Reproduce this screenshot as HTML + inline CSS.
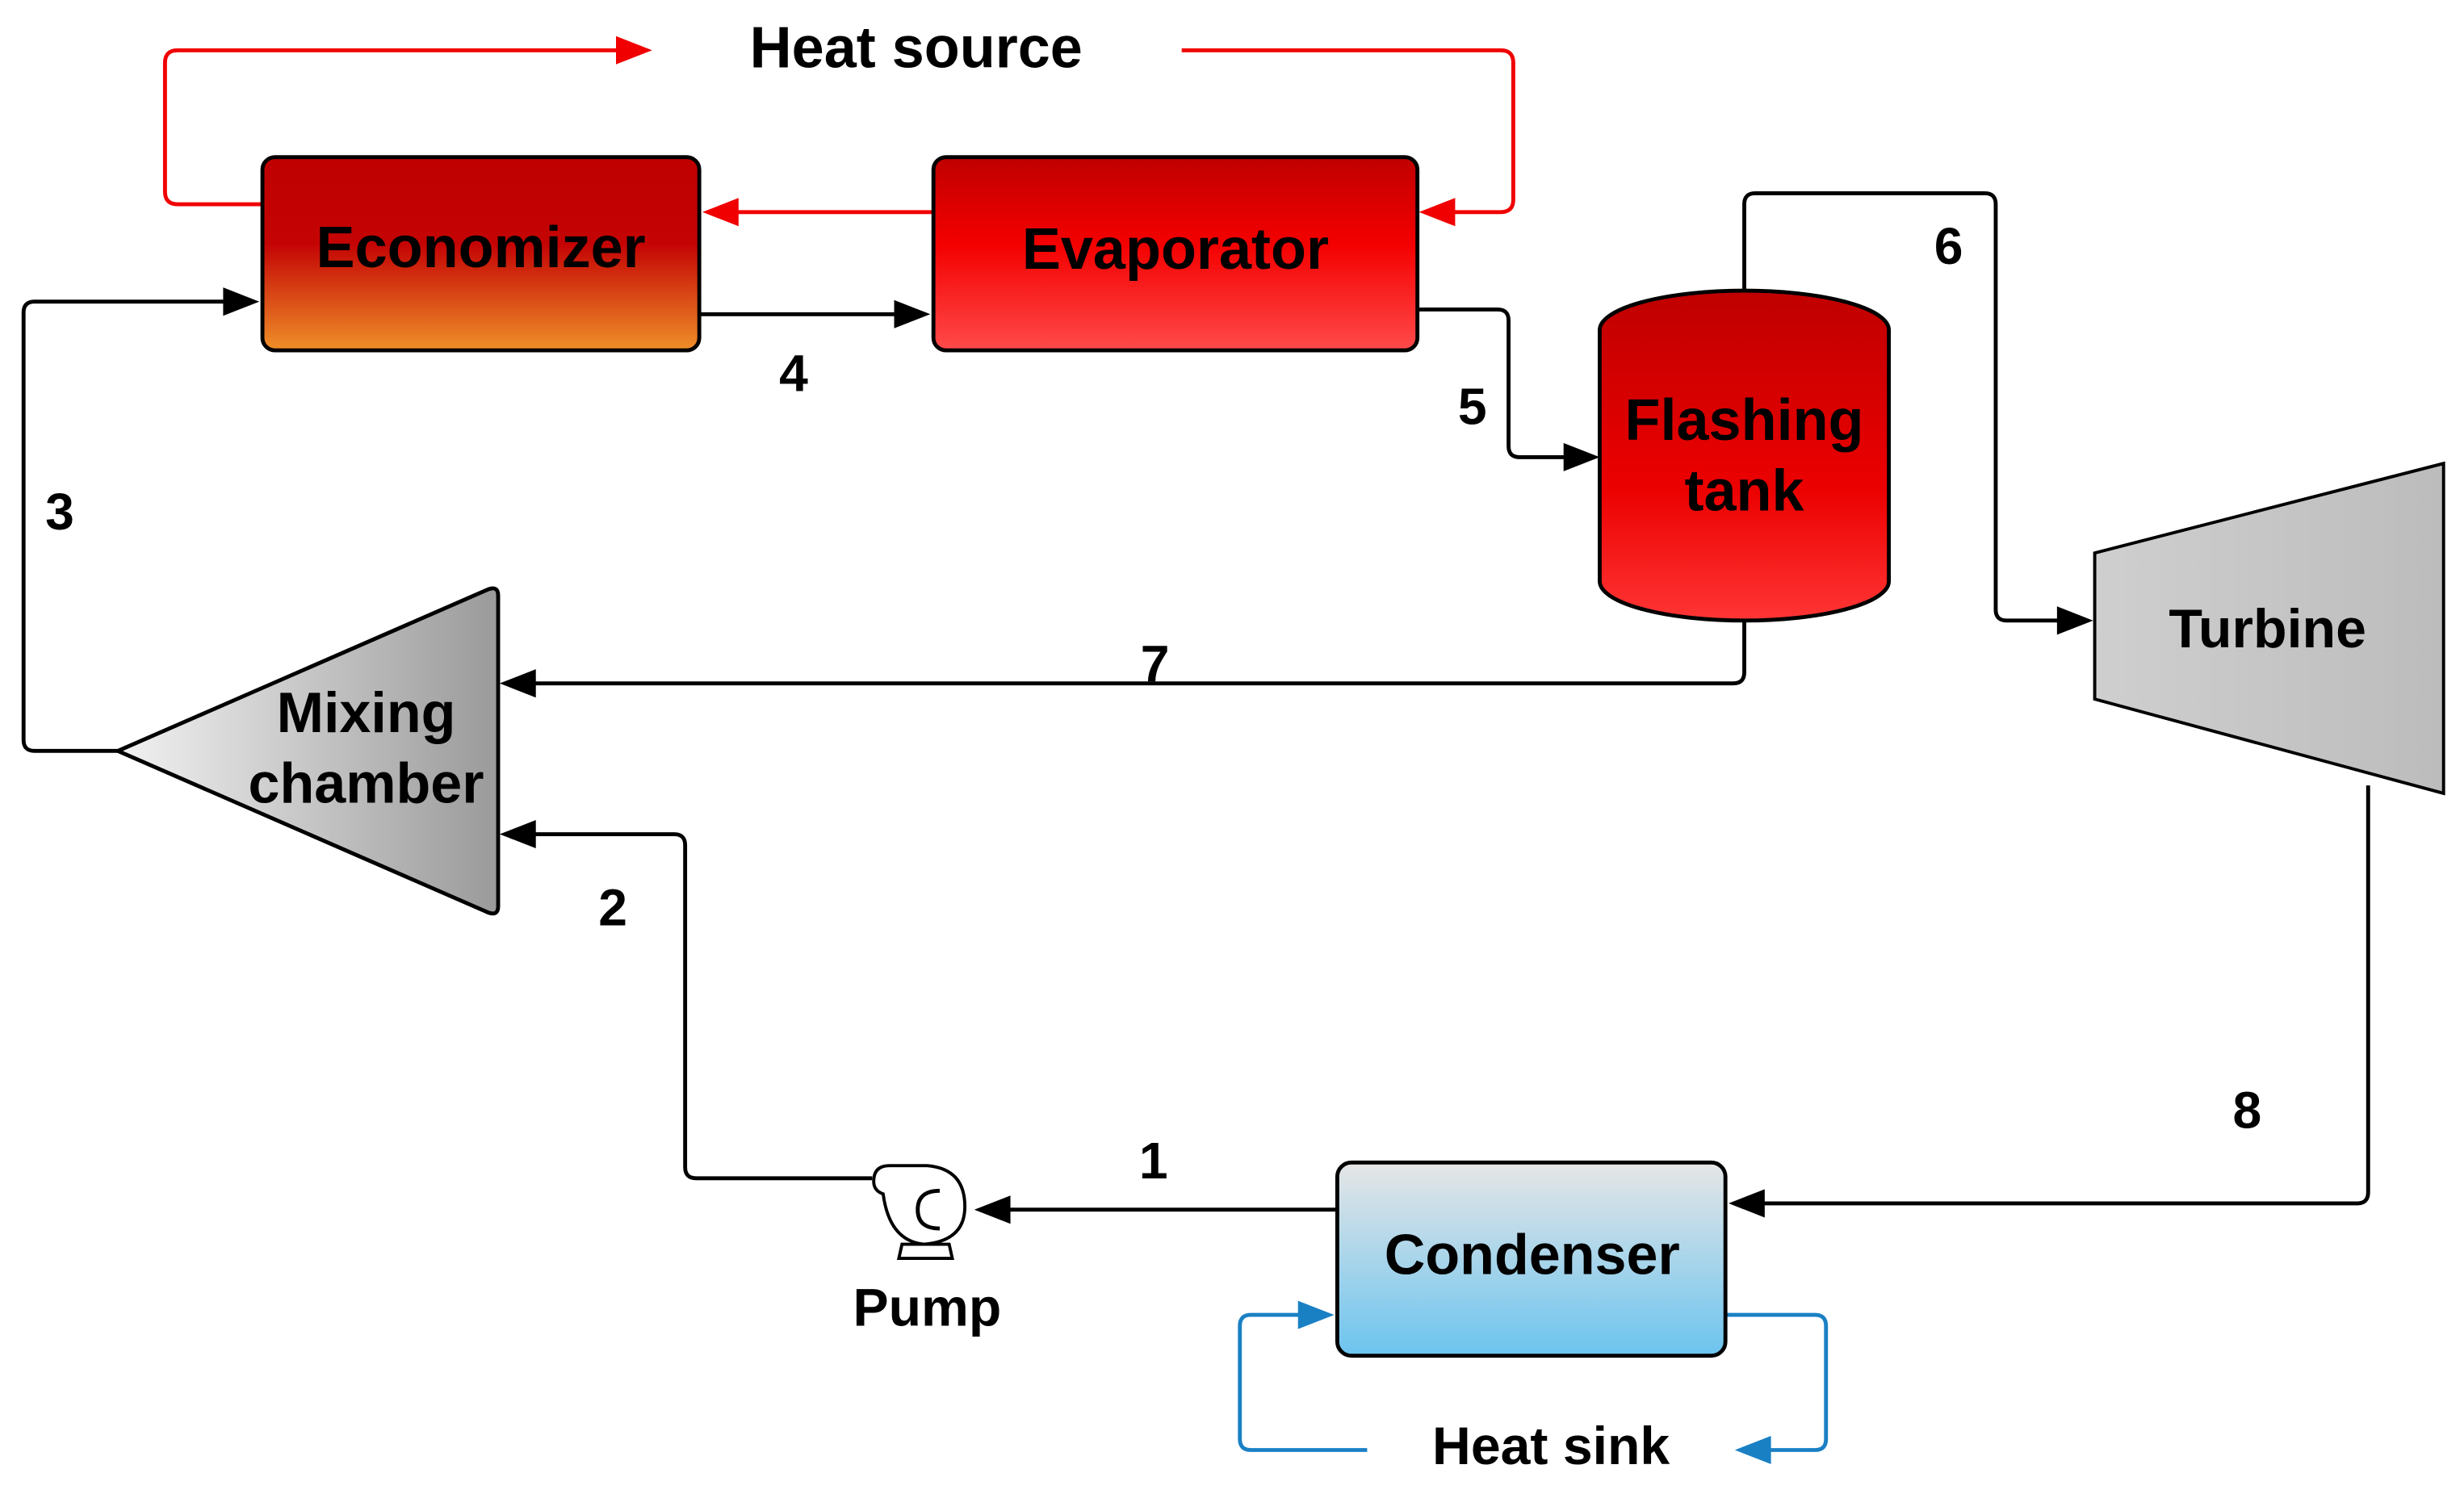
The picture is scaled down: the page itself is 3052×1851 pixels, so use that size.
<!DOCTYPE html>
<html><head><meta charset="utf-8"><style>html,body{margin:0;padding:0;background:#fff}svg{display:block}text{font-family:"Liberation Sans",sans-serif;font-weight:bold;fill:#000;text-anchor:middle}</style></head>
<body>
<svg width="3052" height="1851" viewBox="0 0 1568 951" preserveAspectRatio="none" xmlns="http://www.w3.org/2000/svg">
<defs>
<linearGradient id="eco" x1="0" y1="0" x2="0" y2="1"><stop offset="0" stop-color="#bf0000"/><stop offset="0.45" stop-color="#c40404"/><stop offset="1" stop-color="#ef8f28"/></linearGradient>
<linearGradient id="eva" x1="0" y1="0" x2="0" y2="1"><stop offset="0" stop-color="#bf0000"/><stop offset="0.45" stop-color="#f40000"/><stop offset="1" stop-color="#ff4a4a"/></linearGradient>
<linearGradient id="tank" x1="0" y1="0" x2="0" y2="1"><stop offset="0" stop-color="#bf0000"/><stop offset="0.6" stop-color="#ec0000"/><stop offset="1" stop-color="#ff3535"/></linearGradient>
<linearGradient id="con" x1="0" y1="0" x2="0" y2="1"><stop offset="0" stop-color="#e6e6e6"/><stop offset="1" stop-color="#6cc4ef"/></linearGradient>
<linearGradient id="tur" x1="0" y1="0" x2="1" y2="0"><stop offset="0" stop-color="#cfcfcf"/><stop offset="1" stop-color="#bcbcbc"/></linearGradient>
<linearGradient id="mix" x1="0" y1="0" x2="1" y2="0"><stop offset="0" stop-color="#f2f2f2"/><stop offset="1" stop-color="#9a9a9a"/></linearGradient>
</defs>
<g fill="none" stroke-linejoin="round">
<g stroke="#f00000" stroke-width="2.5">
<path d="M752 32 H955 Q963 32 963 40 V127 Q963 135 955 135 H925"/>
<path d="M167 130 H113 Q105 130 105 122 V40 Q105 32 113 32 H395"/>
<path d="M594 135 H468"/>
</g>
<g stroke="#000" stroke-width="2.5">
<path d="M445 200 H572"/>
<path d="M902 197 H953 Q960 197 960 204 V284 Q960 291 967 291 H998"/>
<path d="M1110 185 V130 Q1110 123 1117 123 H1263 Q1270 123 1270 130 V388 Q1270 395 1277 395 H1312"/>
<path d="M1110 395 V428 Q1110 435 1103 435 H340"/>
<path d="M75 478 H22 Q15 478 15 471 V199 Q15 192 22 192 H145"/>
<path d="M555 750 H443 Q436 750 436 743 V538 Q436 531 429 531 H340"/>
<path d="M851 770 H642"/>
<path d="M1507 500 V759 Q1507 766 1500 766 H1122"/>
</g>
<g stroke="#1a80c4" stroke-width="2.5">
<path d="M1098 837 H1155 Q1162 837 1162 844 V916 Q1162 923 1155 923 H1126"/>
<path d="M870 923 H796 Q789 923 789 916 V844 Q789 837 796 837 H828"/>
</g>
</g>
<g fill="#f00000">
<polygon points="415,32 392,23 392,41"/>
<polygon points="903,135 926,126 926,144"/>
<polygon points="447,135 470,126 470,144"/>
</g>
<g fill="#000">
<polygon points="592,200 569,191 569,209"/>
<polygon points="1018,291 995,282 995,300"/>
<polygon points="1332,395 1309,386 1309,404"/>
<polygon points="318,435 341,426 341,444"/>
<polygon points="165,192 142,183 142,201"/>
<polygon points="318,531 341,522 341,540"/>
<polygon points="620,770 643,761 643,779"/>
<polygon points="1100,766 1123,757 1123,775"/>
</g>
<g fill="#1a80c4">
<polygon points="849,837 826,828 826,846"/>
<polygon points="1104,923 1127,914 1127,932"/>
</g>
<rect x="167" y="100" width="278" height="123" rx="8" fill="url(#eco)" stroke="#000" stroke-width="2.5"/>
<rect x="594" y="100" width="308" height="123" rx="8" fill="url(#eva)" stroke="#000" stroke-width="2.5"/>
<path d="M1018 210 A92 25 0 0 1 1202 210 V370 A92 25 0 0 1 1018 370 Z" fill="url(#tank)" stroke="#000" stroke-width="2.5"/>
<polygon points="1333,352 1555,295 1555,505 1333,445" fill="url(#tur)" stroke="#000" stroke-width="2"/>
<path d="M75 478 L311 375 Q317 373 317 379 V577 Q317 583 311 581 Z" fill="url(#mix)" stroke="#000" stroke-width="2.5"/>
<rect x="851" y="740" width="247" height="123" rx="9" fill="url(#con)" stroke="#000" stroke-width="2.5"/>
<g fill="#fff" stroke="#000" stroke-width="2">
<path d="M574 792 L572 801 H606 L604 792 Z"/>
<path d="M566 742 Q556 742 556 752 Q556 758 562 760 Q566 790 588 792 Q614 790 614 768 Q614 744 590 742 Z"/>
<path d="M598 758 Q584 758 584 770 Q584 782 598 782" stroke-width="2.5"/>
</g>
<text x="583" y="43" font-size="37">Heat source</text>
<text x="306" y="170" font-size="37">Economizer</text>
<text x="748" y="171" font-size="37">Evaporator</text>
<text x="1110" y="280" font-size="37">Flashing</text>
<text x="1110" y="325" font-size="37">tank</text>
<text x="1443" y="412" font-size="35">Turbine</text>
<text x="233" y="466" font-size="36">Mixing</text>
<text x="233" y="511" font-size="36">chamber</text>
<text x="975" y="811" font-size="36">Condenser</text>
<text x="590" y="844" font-size="34">Pump</text>
<text x="987" y="932" font-size="34">Heat sink</text>
<g font-size="33">
<text x="505" y="249">4</text>
<text x="937" y="270">5</text>
<text x="1240" y="168">6</text>
<text x="735" y="434">7</text>
<text x="38" y="337">3</text>
<text x="390" y="589">2</text>
<text x="734" y="750">1</text>
<text x="1430" y="718">8</text>
</g>
</svg>
</body></html>
